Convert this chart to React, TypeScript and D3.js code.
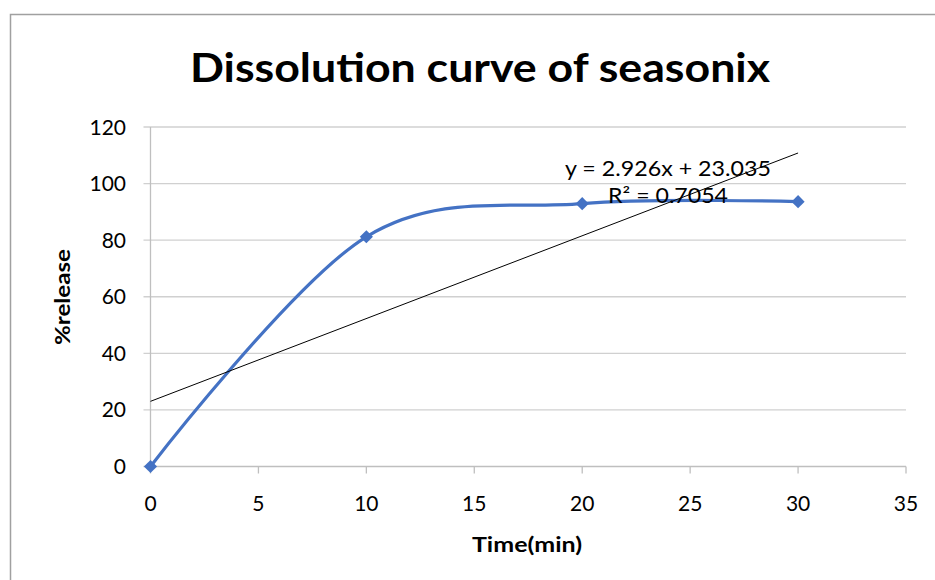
import React from "react";
import * as d3 from "d3";

const timeMin = [0, 10, 20, 30];
const release = [0, 81.2, 92.9, 93.6];
const xTicks = [0, 5, 10, 15, 20, 25, 30, 35];
const yTicks = [0, 20, 40, 60, 80, 100, 120];
const slope = 2.926;
const intercept = 23.035;
const equationText = "y = 2.926x + 23.035";
const r2Value = "0.7054";
const titleText = "Dissolution curve of seasonix";
const xTitle = "Time(min)";
const yTitle = "%release";

export default function App() {
  const W = 935, H = 580;
  const x = d3.scaleLinear().domain([0, 35]).range([150.5, 906]);
  const y = d3.scaleLinear().domain([0, 120]).range([466.5, 127]);
  const font = "Lato, 'Open Sans', sans-serif";
  const pts = timeMin.map((t, i) => [t, release[i]] as [number, number]);
  const line = d3
    .line<[number, number]>()
    .x((d) => x(d[0]))
    .y((d) => y(d[1]))
    .curve(d3.curveCardinal.tension(0));
  const tx0 = 0, tx1 = 30;
  const diamond = d3.symbol().type(d3.symbolDiamond2 || d3.symbolDiamond).size(110)();
  return (
    <svg width={W} height={H} style={{ position: "absolute", left: 0, top: 0 }}>
      <rect x={0} y={0} width={W} height={H} fill="#fff" />
      <rect x={10.5} y={14.5} width={1000} height={700} fill="none" stroke="#a0a0a0" strokeWidth={1.5} />
      <text x={480} y={82} textAnchor="middle" fontFamily={font} fontWeight="bold" fontSize={41}
        textLength={580} lengthAdjust="spacingAndGlyphs">{titleText}</text>
      {yTicks.map((t) => (
        <g key={"y" + t}>
          <line x1={x(0) - 7} x2={x(35)} y1={y(t)} y2={y(t)} stroke={t === 0 ? "#bfbfbf" : "#d0d0d0"} strokeWidth={1.3} />
          <text x={126} y={y(t) + 7.5} textAnchor="end" fontFamily={font} fontSize={21} fill="#000">{t}</text>
        </g>
      ))}
      <line x1={x(0)} x2={x(0)} y1={y(120)} y2={y(0)} stroke="#bfbfbf" strokeWidth={1.3} />
      {xTicks.map((t) => (
        <g key={"x" + t}>
          <line x1={x(t)} x2={x(t)} y1={y(0)} y2={y(0) + 7} stroke="#bfbfbf" strokeWidth={1.3} />
          <text x={x(t)} y={y(0) + 44} textAnchor="middle" fontFamily={font} fontSize={21} fill="#000">{t}</text>
        </g>
      ))}
      <text x={527} y={552} textAnchor="middle" fontFamily={font} fontWeight="bold" fontSize={20}
        textLength={110} lengthAdjust="spacingAndGlyphs">{xTitle}</text>
      <text transform={`translate(70,297) rotate(-90)`} textAnchor="middle" fontFamily={font} fontWeight="bold" fontSize={20}
        textLength={96} lengthAdjust="spacingAndGlyphs">{yTitle}</text>
      <path d={line(pts) || ""} fill="none" stroke="#4472C4" strokeWidth={3.2} />
      {pts.map((p, i) => (
        <path key={"m" + i} d={diamond || ""} transform={`translate(${x(p[0])},${y(p[1])})`} fill="#4472C4" />
      ))}
      <line x1={x(tx0)} y1={y(slope * tx0 + intercept)} x2={x(tx1)} y2={y(slope * tx1 + intercept)} stroke="#000" strokeWidth={1} />
      <text x={668} y={176} textAnchor="middle" fontFamily={font} fontSize={21} fill="#000"
        textLength={206} lengthAdjust="spacingAndGlyphs">{equationText}</text>
      <text x={668} y={203} textAnchor="middle" fontFamily={font} fontSize={21} fill="#000"
        textLength={120} lengthAdjust="spacingAndGlyphs">
        R² = {r2Value}
      </text>
    </svg>
  );
}
